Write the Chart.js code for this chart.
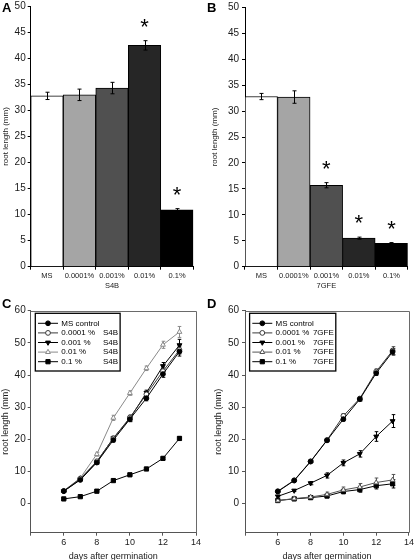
<!DOCTYPE html>
<html><head><meta charset="utf-8">
<script src="https://cdn.jsdelivr.net/npm/chart.js@4.4.1/dist/chart.umd.min.js"></script>
<style>
html,body{margin:0;padding:0;background:#fff;}
body{width:415px;height:560px;position:relative;overflow:hidden;font-family:"Liberation Sans",Arial,sans-serif;}
.pane{position:absolute;}
.pane canvas{display:block;}
.letter{position:absolute;font-weight:bold;font-size:13px;line-height:13px;color:#000;}
</style></head><body>
<div class="pane" style="left:0;top:0;width:207px;height:292px"><canvas id="cA" width="207" height="292"></canvas></div>
<div class="pane" style="left:207px;top:0;width:208px;height:292px"><canvas id="cB" width="208" height="292"></canvas></div>
<div class="pane" style="left:0;top:290px;width:207px;height:270px"><canvas id="cC" width="207" height="270"></canvas></div>
<div class="pane" style="left:207px;top:290px;width:208px;height:270px"><canvas id="cD" width="208" height="270"></canvas></div>
<div class="letter" style="left:2px;top:1px">A</div>
<div class="letter" style="left:207px;top:1px">B</div>
<div class="letter" style="left:2px;top:297px">C</div>
<div class="letter" style="left:207px;top:297px">D</div>
<script>
// ---------- DATA ----------
const barCategories = ['MS', '0.0001%', '0.001%', '0.01%', '0.1%'];
const s4bMeans = [32.8, 33.0, 34.3, 42.5, 10.9];
const s4bErrors = [0.7, 1.1, 1.1, 0.9, 0.25];
const s4bSignificant = [false, false, false, true, true];
const gfeMeans = [32.8, 32.7, 15.7, 5.5, 4.5];
const gfeErrors = [0.6, 1.2, 0.5, 0.2, 0.15];
const gfeSignificant = [false, false, true, true, true];

const days = [6, 7, 8, 9, 10, 11, 12, 13];
const seriesLabels = ['MS control', '0.0001 %', '0.001 %', '0.01 %', '0.1 %'];

const s4bMS    = [3.9, 7.4, 12.8, 19.8, 26.3, 32.8, 40.3, 47.3];
const s4b0001  = [4.0, 7.8, 13.2, 20.3, 26.8, 34.0, 41.2, 47.8];
const s4b001   = [3.9, 7.6, 13.0, 20.4, 26.5, 34.5, 42.8, 49.3];
const s4b01    = [4.0, 8.0, 15.4, 26.7, 34.4, 42.1, 49.4, 53.4];
const s4b1     = [1.5, 2.2, 3.9, 7.2, 9.0, 10.8, 14.1, 20.3];
const s4bMSErr   = [0.2, 0.3, 0.5, 0.6, 0.8, 0.8, 1.0, 1.4];
const s4b0001Err = [0.2, 0.3, 0.5, 0.6, 0.8, 0.8, 1.0, 1.3];
const s4b001Err  = [0.2, 0.3, 0.5, 0.6, 0.8, 0.8, 1.1, 1.8];
const s4b01Err   = [0.2, 0.4, 0.6, 0.8, 0.7, 0.7, 1.1, 1.7];
const s4b1Err    = [0.1, 0.2, 0.2, 0.3, 0.3, 0.3, 0.4, 0.6];

const gfeMS    = [3.8, 7.2, 13.1, 19.7, 26.3, 32.5, 40.6, 47.2];
const gfe0001  = [3.9, 7.3, 13.2, 19.8, 27.3, 32.7, 41.1, 47.6];
const gfe001   = [2.3, 4.1, 6.4, 8.8, 12.7, 15.5, 20.9, 25.7];
const gfe01    = [1.0, 1.6, 2.1, 2.9, 4.3, 5.2, 6.6, 7.4];
const gfe1     = [1.0, 1.5, 1.9, 2.4, 3.8, 4.4, 5.6, 6.2];
const gfeMSErr   = [0.2, 0.3, 0.3, 0.4, 0.6, 0.6, 0.7, 1.0];
const gfe0001Err = [0.3, 0.3, 0.4, 0.5, 0.7, 0.6, 0.8, 1.2];
const gfe001Err  = [0.2, 0.3, 0.5, 0.8, 0.9, 1.0, 1.5, 2.0];
const gfe01Err   = [0.2, 0.3, 0.4, 0.7, 0.9, 1.1, 1.4, 1.7];
const gfe1Err    = [0.2, 0.2, 0.3, 0.5, 0.7, 0.8, 1.0, 1.3];

const barYTickStep = 5;
const lineYTickStep = 10;
const lineXTickStep = 2;

// ---------- STYLES ----------
const FONT = '"Liberation Sans", Arial, sans-serif';
const barFill = ['#ffffff', '#a5a5a5', '#505050', '#262626', '#000000'];

// ---------- PLUGINS ----------
function drawMarker(ctx, style, r, rot, x, y) {
  if (Chart.helpers && Chart.helpers.drawPoint) {
    Chart.helpers.drawPoint(ctx, {pointStyle: style, radius: r, rotation: rot || 0, borderWidth: 1}, x, y);
    return;
  }
  ctx.beginPath(); ctx.arc(x, y, r, 0, Math.PI * 2); ctx.fill(); ctx.stroke();
}

const errorBars = {
  id: 'errorBars',
  draw(chart) {
    const ctx = chart.ctx, ys = chart.scales.y;
    chart.data.datasets.forEach((ds, i) => {
      if (!ds.errors) return;
      const meta = chart.getDatasetMeta(i);
      ctx.save();
      ctx.lineWidth = 1;
      ctx.strokeStyle = ds.errorColor || '#000';
      const cap = ds.errorCap || 2;
      meta.data.forEach((el, j) => {
        const d = ds.data[j];
        const v = (typeof d === 'object') ? d.y : d;
        const e = ds.errors[j];
        const x = Math.round(el.x) + 0.5;
        const y1 = ys.getPixelForValue(v + e), y2 = ys.getPixelForValue(v - e);
        ctx.beginPath();
        ctx.moveTo(x, y1); ctx.lineTo(x, y2);
        ctx.moveTo(x - cap, y1); ctx.lineTo(x + cap, y1);
        ctx.moveTo(x - cap, y2); ctx.lineTo(x + cap, y2);
        ctx.stroke();
      });
      ctx.restore();
    });
  },
  beforeDatasetsDraw(chart) { if (chart.config.type === 'line') this.draw(chart); },
  afterDatasetsDraw(chart) { if (chart.config.type === 'bar') this.draw(chart); }
};

const asterisks = {
  id: 'asterisks',
  afterDatasetsDraw(chart) {
    const ds = chart.data.datasets[0];
    if (!ds.significant) return;
    const ctx = chart.ctx, ys = chart.scales.y, meta = chart.getDatasetMeta(0);
    ctx.save();
    ctx.font = '22px ' + FONT;
    ctx.fillStyle = '#000';
    ctx.textAlign = 'center';
    ctx.textBaseline = 'alphabetic';
    meta.data.forEach((el, j) => {
      if (!ds.significant[j]) return;
      const top = ys.getPixelForValue(ds.data[j] + ds.errors[j]);
      ctx.fillText('*', el.x, top - 20 + 13);
    });
    ctx.restore();
  }
};

const frame = {
  id: 'frame',
  afterDraw(chart, args, o) {
    if (!o || !o.show) return;
    const ca = chart.chartArea, ctx = chart.ctx;
    ctx.save();
    ctx.strokeStyle = '#6a6a6a';
    ctx.lineWidth = 1;
    ctx.beginPath();
    ctx.moveTo(ca.left, Math.round(ca.top) + 0.5);
    ctx.lineTo(Math.round(ca.right) + 0.5, Math.round(ca.top) + 0.5);
    ctx.lineTo(Math.round(ca.right) + 0.5, ca.bottom);
    ctx.stroke();
    ctx.restore();
  }
};

const boxLegend = {
  id: 'boxLegend',
  afterDraw(chart, args, o) {
    if (!o || !o.compound) return;
    const ctx = chart.ctx, ca = chart.chartArea;
    ctx.save();
    ctx.font = '8px ' + FONT;
    const left = ca.left + 4.6, top = ca.top + 2.6;
    const rowH = 9.6, n = chart.data.datasets.length;
    const col2X = left + o.col2;
    const w = col2X + ctx.measureText(o.compound).width + 2 - left;
    const h = 10 + (n - 1) * rowH + 9.3;
    ctx.fillStyle = '#fff';
    ctx.fillRect(left, top, w, h);
    ctx.strokeStyle = '#000';
    ctx.lineWidth = 1.3;
    ctx.strokeRect(left, top, w, h);
    chart.data.datasets.forEach((ds, i) => {
      const y = top + 10 + i * rowH;
      ctx.strokeStyle = ds.borderColor;
      ctx.lineWidth = 1;
      ctx.beginPath(); ctx.moveTo(left + 2.7, y); ctx.lineTo(left + 22.7, y); ctx.stroke();
      ctx.fillStyle = ds.pointBackgroundColor;
      ctx.strokeStyle = ds.pointBorderColor;
      ctx.lineWidth = 1;
      drawMarker(ctx, ds.pointStyle, ds.pointRadius, ds.pointRotation, left + 12.7, y);
      ctx.fillStyle = '#000';
      ctx.textAlign = 'left';
      ctx.textBaseline = 'middle';
      ctx.fillText(ds.label, left + 26, y);
      if (i > 0) ctx.fillText(o.compound, col2X, y);
    });
    ctx.restore();
  }
};

Chart.register(errorBars, asterisks, frame, boxLegend);
Chart.defaults.font.family = FONT;
Chart.defaults.color = '#1a1a1a';
Chart.defaults.animation = false;

// ---------- BAR CHARTS ----------
function makeBar(id, means, errs, sig, compound, yWidth, padRight, titlePad, tickPad) {
  new Chart(document.getElementById(id), {
    type: 'bar',
    data: {
      labels: barCategories,
      datasets: [{
        data: means, errors: errs, significant: sig,
        backgroundColor: barFill, borderColor: '#000', borderWidth: 1,
        barPercentage: 1, categoryPercentage: 1, errorCap: 2
      }]
    },
    options: {
      responsive: false, animation: false,
      layout: {padding: {top: 4.3, right: padRight, left: 0, bottom: 0}},
      plugins: {legend: {display: false}, tooltip: {enabled: false}},
      scales: {
        x: {
          grid: {display: true, drawOnChartArea: false, drawTicks: true, tickLength: 3, color: '#000', offset: true},
          border: {color: '#000', width: 1},
          ticks: {font: {size: 7.5}, padding: 2, maxRotation: 0, autoSkip: false},
          title: {display: true, text: compound, font: {size: 7.5}, padding: {top: 0, bottom: 2}},
          afterFit: s => { s.height = 292 - 266.7; }
        },
        y: {
          min: 0, max: 50,
          ticks: {stepSize: barYTickStep, font: {size: 10, lineHeight: 0.86}, padding: tickPad},
          grid: {display: true, drawOnChartArea: false, drawTicks: true, tickLength: 3, color: '#000'},
          border: {color: '#000', width: 1},
          title: {display: true, text: 'root length (mm)', font: {size: 8}, padding: {top: titlePad, bottom: 0}},
          afterFit: s => { s.width = yWidth; }
        }
      }
    }
  });
}
makeBar('cA', s4bMeans, s4bErrors, s4bSignificant, 'S4B', 30.7, 13.7, 1.2, 2);
makeBar('cB', gfeMeans, gfeErrors, gfeSignificant, '7GFE', 38, 7.3, 3.2, 3);

// ---------- LINE CHARTS ----------
function series(label, vals, errs, line, style, fill, border, r, rot) {
  return {
    label: label,
    data: days.map((d, k) => ({x: d, y: vals[k]})),
    errors: errs, errorColor: line, errorCap: 1.8,
    borderColor: line, borderWidth: 1, tension: 0,
    pointStyle: style, pointRadius: r, pointRotation: rot || 0,
    pointBackgroundColor: fill, pointBorderColor: border, pointBorderWidth: 1
  };
}
function makeLine(id, sets, compound, col2, yWidth, padRight, titlePad, tickPad) {
  new Chart(document.getElementById(id), {
    type: 'line',
    data: {datasets: sets},
    options: {
      responsive: false, animation: false,
      layout: {padding: {top: 20.7, right: padRight, left: 0, bottom: 0}},
      plugins: {legend: {display: false}, tooltip: {enabled: false}, frame: {show: true}, boxLegend: {compound: compound, col2: col2}},
      scales: {
        x: {
          type: 'linear', min: 4, max: 14,
          ticks: {stepSize: lineXTickStep, font: {size: 9}, padding: 1, callback: v => (v === 4 ? '' : v)},
          grid: {display: true, drawOnChartArea: false, drawTicks: true, tickLength: 3, color: '#555'},
          border: {color: '#555', width: 1},
          title: {display: true, text: 'days after germination', font: {size: 9}, padding: {top: 0, bottom: -2}},
          afterFit: s => { s.height = 270 - 242.7; }
        },
        y: {
          min: -9, max: 60,
          ticks: {stepSize: lineYTickStep, font: {size: 10}, padding: tickPad},
          afterBuildTicks: s => { s.ticks = s.ticks.filter(t => t.value >= 0); },
          grid: {display: true, drawOnChartArea: false, drawTicks: true, tickLength: 3, color: '#555'},
          border: {color: '#555', width: 1},
          title: {display: true, text: 'root length (mm)', font: {size: 9}, padding: {top: titlePad, bottom: 0}},
          afterFit: s => { s.width = yWidth; }
        }
      }
    }
  });
}
makeLine('cC', [
  series(seriesLabels[0], s4bMS, s4bMSErr, '#000', 'circle', '#000', '#000', 2.4),
  series(seriesLabels[1], s4b0001, s4b0001Err, '#3a3a3a', 'circle', '#fff', '#3a3a3a', 2.4),
  series(seriesLabels[2], s4b001, s4b001Err, '#000', 'triangle', '#000', '#000', 2.8, 180),
  series(seriesLabels[3], s4b01, s4b01Err, '#8a8a8a', 'triangle', '#fff', '#8a8a8a', 2.8),
  series(seriesLabels[4], s4b1, s4b1Err, '#000', 'rect', '#000', '#000', 3)
], 'S4B', 67.7, 30.7, 11, 0.6, 2);
makeLine('cD', [
  series(seriesLabels[0], gfeMS, gfeMSErr, '#000', 'circle', '#000', '#000', 2.4),
  series(seriesLabels[1], gfe0001, gfe0001Err, '#3a3a3a', 'circle', '#fff', '#3a3a3a', 2.4),
  series(seriesLabels[2], gfe001, gfe001Err, '#000', 'triangle', '#000', '#000', 2.8, 180),
  series(seriesLabels[3], gfe01, gfe01Err, '#555', 'triangle', '#fff', '#555', 2.8),
  series(seriesLabels[4], gfe1, gfe1Err, '#000', 'rect', '#000', '#000', 3)
], '7GFE', 63.3, 38, 6, 6, 3);
</script>
</body></html>
